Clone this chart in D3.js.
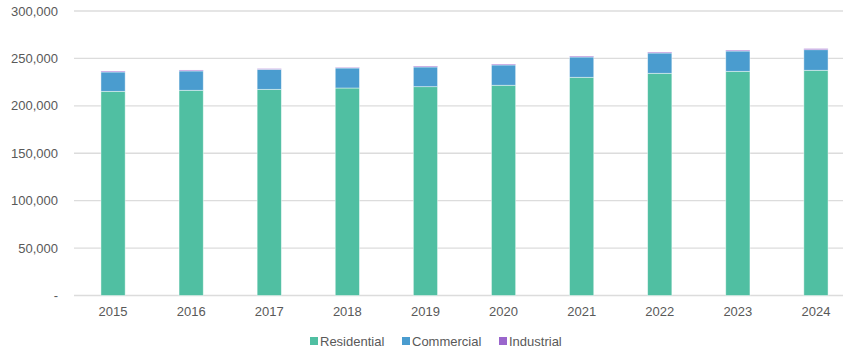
<!DOCTYPE html>
<html>
<head>
<meta charset="utf-8">
<script src="https://cdn.jsdelivr.net/npm/d3@7/dist/d3.min.js"></script>
<style>
  html, body { margin: 0; padding: 0; background: #fff; }
  svg { display: block; font-family: "Liberation Sans", Arial, sans-serif; }
</style>
</head>
<body>
<svg id="chart" width="843" height="351"></svg>
<script>
// Annual customer counts by sector
const years = ["2015", "2016", "2017", "2018", "2019", "2020", "2021", "2022", "2023", "2024"];
const residential = [215300, 216400, 217400, 218800, 220200, 221700, 230100, 234300, 236400, 237500];
const commercial  = [20400, 20400, 21100, 21100, 20800, 21400, 21400, 21400, 21400, 21700];
const industrial  = [1000, 1000, 800, 700, 1000, 1000, 1000, 1000, 1000, 1200];
const seriesNames = ["Residential", "Commercial", "Industrial"];
const seriesColors = ["#50bfa2", "#4a9ccf", "#9a66cc"];
const yTicks = [0, 50000, 100000, 150000, 200000, 250000, 300000];

const svg = d3.select("#chart");

const x = d3.scaleBand().domain(years).range([74, 855]).paddingInner(0.69).paddingOuter(0.345);
const y = d3.scaleLinear().domain([0, 300000]).range([295.5, 11]);

const rows = years.map((yr, i) => ({
  year: yr,
  Residential: residential[i],
  Commercial: commercial[i],
  Industrial: industrial[i]
}));
const stacked = d3.stack().keys(seriesNames)(rows);

// gridlines
svg.append("g")
  .selectAll("line")
  .data(yTicks)
  .join("line")
  .attr("x1", 74).attr("x2", 843)
  .attr("y1", d => y(d)).attr("y2", d => y(d))
  .attr("stroke", "#dcdcdc")
  .attr("stroke-width", 1.3);

// y axis labels
const fmt = d3.format(",");
svg.append("g")
  .selectAll("text")
  .data(yTicks)
  .join("text")
  .attr("x", 58)
  .attr("y", d => y(d))
  .attr("dy", "0.35em")
  .attr("text-anchor", "end")
  .attr("font-size", 13)
  .attr("fill", "#595959")
  .text(d => d === 0 ? "-" : fmt(d));

// stacked bars
svg.append("g")
  .selectAll("g")
  .data(stacked)
  .join("g")
  .attr("fill", (d, i) => seriesColors[i])
  .selectAll("rect")
  .data(d => d)
  .join("rect")
  .attr("x", d => x(d.data.year))
  .attr("width", x.bandwidth())
  .attr("y", d => y(d[1]))
  .attr("height", d => y(d[0]) - y(d[1]))
  .attr("stroke", "rgba(255,255,255,0.55)")
  .attr("stroke-width", 0.8);

// x axis labels
svg.append("g")
  .selectAll("text")
  .data(years)
  .join("text")
  .attr("x", d => x(d) + x.bandwidth() / 2)
  .attr("y", 316)
  .attr("text-anchor", "middle")
  .attr("font-size", 13)
  .attr("fill", "#595959")
  .text(d => d);

// legend
const legendX = [310, 402, 499];
const legend = svg.append("g")
  .selectAll("g")
  .data(seriesNames)
  .join("g")
  .attr("transform", (d, i) => `translate(${legendX[i]},341)`);
legend.append("rect")
  .attr("x", 0).attr("y", -4)
  .attr("width", 8).attr("height", 8)
  .attr("fill", (d, i) => seriesColors[i]);
legend.append("text")
  .attr("x", 10)
  .attr("y", 0)
  .attr("dy", "0.35em")
  .attr("font-size", 13)
  .attr("fill", "#595959")
  .text(d => d);
</script>
</body>
</html>
